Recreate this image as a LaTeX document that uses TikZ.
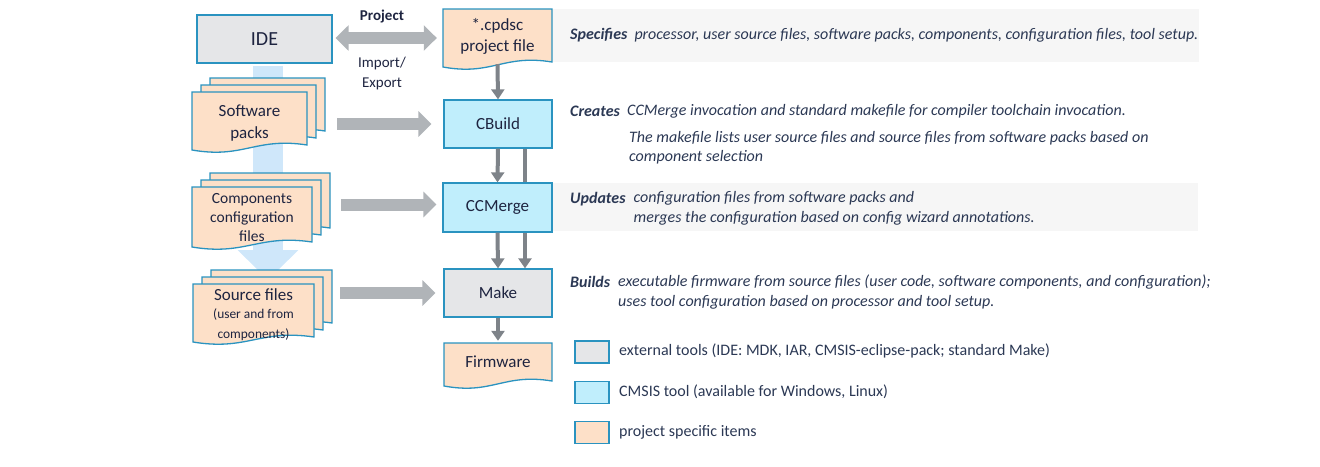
\documentclass[tikz,border=0pt]{standalone}
\usepackage{fontspec}
\setmainfont{Carlito}
\usetikzlibrary{arrows.meta,calc}
\definecolor{bord}{HTML}{2A93C0}
\definecolor{grayfill}{HTML}{E5E6E8}
\definecolor{bluefill}{HTML}{C0EEFC}
\definecolor{peach}{HTML}{FDE0C8}
\definecolor{darkarr}{HTML}{7E8389}
\definecolor{fatgray}{HTML}{B0B4B8}
\definecolor{lightband}{HTML}{CFE7FA}
\definecolor{bandgray}{HTML}{F6F6F6}
\definecolor{lbl}{HTML}{1E2440}
\definecolor{desc}{HTML}{2B3854}
\newcommand{\boxfont}{\fontsize{17}{21}\selectfont}
\newcommand{\descfont}{\fontsize{16}{19.5}\selectfont}
\newcommand{\docshape}[4]{%
  \filldraw[page] ({#1},{#2}) -- ({#3},{#2}) -- ({#3},{(#4)-3})
   .. controls ({(#1)+0.55*((#3)-(#1))},{(#4)-11}) and ({(#1)+0.45*((#3)-(#1))},{(#4)+11}) .. ({#1},{(#4)+2}) -- cycle;}
\newcommand{\pagestack}[4]{%
  \docshape{(#1)+18}{(#2)-14}{(#3)+18}{(#4)-14}%
  \docshape{(#1)+9}{(#2)-7}{(#3)+9}{(#4)-7}%
  \docshape{#1}{#2}{#3}{#4}}
\tikzset{
  box/.style={draw=bord, line width=1.3pt, inner sep=0pt, align=center, font=\boxfont, text=lbl},
  page/.style={fill=peach, draw=bord, line width=1.3pt},
  lab/.style={inner sep=0pt, align=center, font=\boxfont, text=lbl},
  darr/.style={draw=darkarr, line width=4pt, -{Triangle[length=10pt 0 0,width=13pt 0 0]}},
  fatarr/.style={draw=fatgray, line width=12pt, -{Triangle[length=13pt 0 0,width=25pt 0 0]}},
  dblarr/.style={draw=fatgray, line width=12pt, {Triangle[length=13pt 0 0,width=25pt 0 0]}-{Triangle[length=13pt 0 0,width=25pt 0 0]}},
  bigarr/.style={draw=lightband, line width=30pt, -{Triangle[length=30pt 0 0,width=59pt 0 0]}},
  dtext/.style={inner sep=0pt, anchor=west, align=left, font=\descfont\itshape, text=desc},
  ltext/.style={inner sep=0pt, anchor=west, align=left, font=\descfont, text=desc},
  smallt/.style={inner sep=0pt, align=center, font=\fontsize{15}{20}\selectfont, text=lbl},
  legbox/.style={draw=bord, line width=1.3pt, minimum width=34pt, minimum height=22pt, inner sep=0pt}
}
\begin{document}
\begin{tikzpicture}[x=1pt,y=-1pt]
\useasboundingbox (0,0) rectangle (1320,466);
% description bands
\fill[bandgray] (552,9) rectangle (1199,62);
\fill[bandgray] (552,183) rectangle (1198,231);

% IDE
\node[box, fill=grayfill, minimum width=135pt, minimum height=48pt, font=\fontsize{20}{22}\selectfont] (ide) at (264.5,39) {IDE};
\coordinate (bluetip) at (268,280);
\draw[bigarr, shorten <=2pt] ([xshift=3.5pt]ide.south) -- (bluetip);

% document shapes
\docshape{443}{9}{552}{65}
\node[lab, minimum width=109pt, minimum height=56pt] (cpdsc) at (497.5,36) {*.cpdsc\\[0pt]project file};
\pagestack{192}{92}{307}{148}
\node[lab, minimum width=115pt, minimum height=56pt] (sw) at (249.5,123) {Software\\[1pt]packs};
\pagestack{192}{187}{312}{245}
\node[lab, minimum width=120pt, minimum height=58pt, font=\fontsize{15.5}{19}\selectfont] (comp) at (252,218) {Components\\configuration\\files};
\pagestack{193}{284}{314}{340}
\node[lab, minimum width=121pt, minimum height=56pt] (src) at (253.5,315) {Source files\\[-3pt]{\fontsize{13.4}{16}\selectfont (user and from}\\[-1pt]{\fontsize{13.4}{16}\selectfont components)}};
\docshape{444}{343}{552}{384}
\node[lab, minimum width=108pt, minimum height=41pt] (firm) at (498,361.5) {Firmware};

% tool boxes
\node[box, fill=bluefill, minimum width=108pt, minimum height=48pt] (cbuild) at (498,124) {CBuild};
\node[box, fill=grayfill, minimum width=108pt, minimum height=48pt] (make) at (498,293) {Make};
\draw[darr] ([xshift=27pt]cbuild.south) -- ([xshift=27pt]make.north);
\node[box, fill=bluefill, minimum width=109pt, minimum height=49pt] (ccmerge) at (497.5,207.5) {CCMerge};

% connectors
\draw[darr] (cpdsc.south) -- (cbuild.north);
\draw[darr] (cbuild.south) -- (ccmerge.north);
\draw[darr] (ccmerge.south) -- (make.north);
\draw[darr] (make.south) -- (firm.north);

\draw[dblarr, shorten <=3pt, shorten >=6pt] ([yshift=1pt]ide.east) -- ([yshift=1pt]ide.east -| cpdsc.west);
\draw[fatarr, shorten <=30pt, shorten >=12pt] (cbuild.west -| sw.east) -- (cbuild.west);
\draw[fatarr, shorten <=29pt, shorten >=6pt] ([yshift=3pt]ccmerge.west -| comp.east) -- ([yshift=3pt]ccmerge.west);
\draw[fatarr, shorten <=26pt, shorten >=8pt] (make.west -| src.east) -- (make.west);

\node[smallt, font=\fontsize{15}{20}\selectfont\bfseries] (projlbl) at (382,17) {Project};
\node[smallt] (implbl) at (382,73) {Import/\\Export};

% descriptions
\node[dtext] (spec) at (570,35) {\textbf{Specifies}\hspace{7pt}processor, user source files, software packs, components, configuration files, tool setup.};
\node[dtext] (crk) at (570,111) {\textbf{Creates}};
\node[dtext] (cr1) at (627,111) {CCMerge invocation and standard makefile for compiler toolchain invocation.};
\node[dtext] (cr2) at (629,147.5) {The makefile lists user source files and source files from software packs based on\\component selection};
\node[dtext] (upk) at (570,199) {\textbf{Updates}};
\node[dtext] (up1) at (633.5,208.5) {configuration files from software packs and\\merges the configuration based on config wizard annotations.};
\node[dtext] (bdk) at (570,282) {\textbf{Builds}};
\node[dtext] (bd1) at (618,292) {executable firmware from source files (user code, software components, and configuration);\\uses tool configuration based on processor and tool setup.};

% legend
\node[legbox, fill=grayfill] (leg1) at (592,352) {};
\node[legbox, fill=bluefill] (leg2) at (592,392.5) {};
\node[legbox, fill=peach] (leg3) at (592,432.5) {};
\node[ltext] (lt1) at (619,351) {external tools (IDE: MDK, IAR, CMSIS-eclipse-pack; standard Make)};
\node[ltext] (lt2) at (619,392) {CMSIS tool (available for Windows, Linux)};
\node[ltext] (lt3) at (619,432) {project specific items};
\end{tikzpicture}
\end{document}
